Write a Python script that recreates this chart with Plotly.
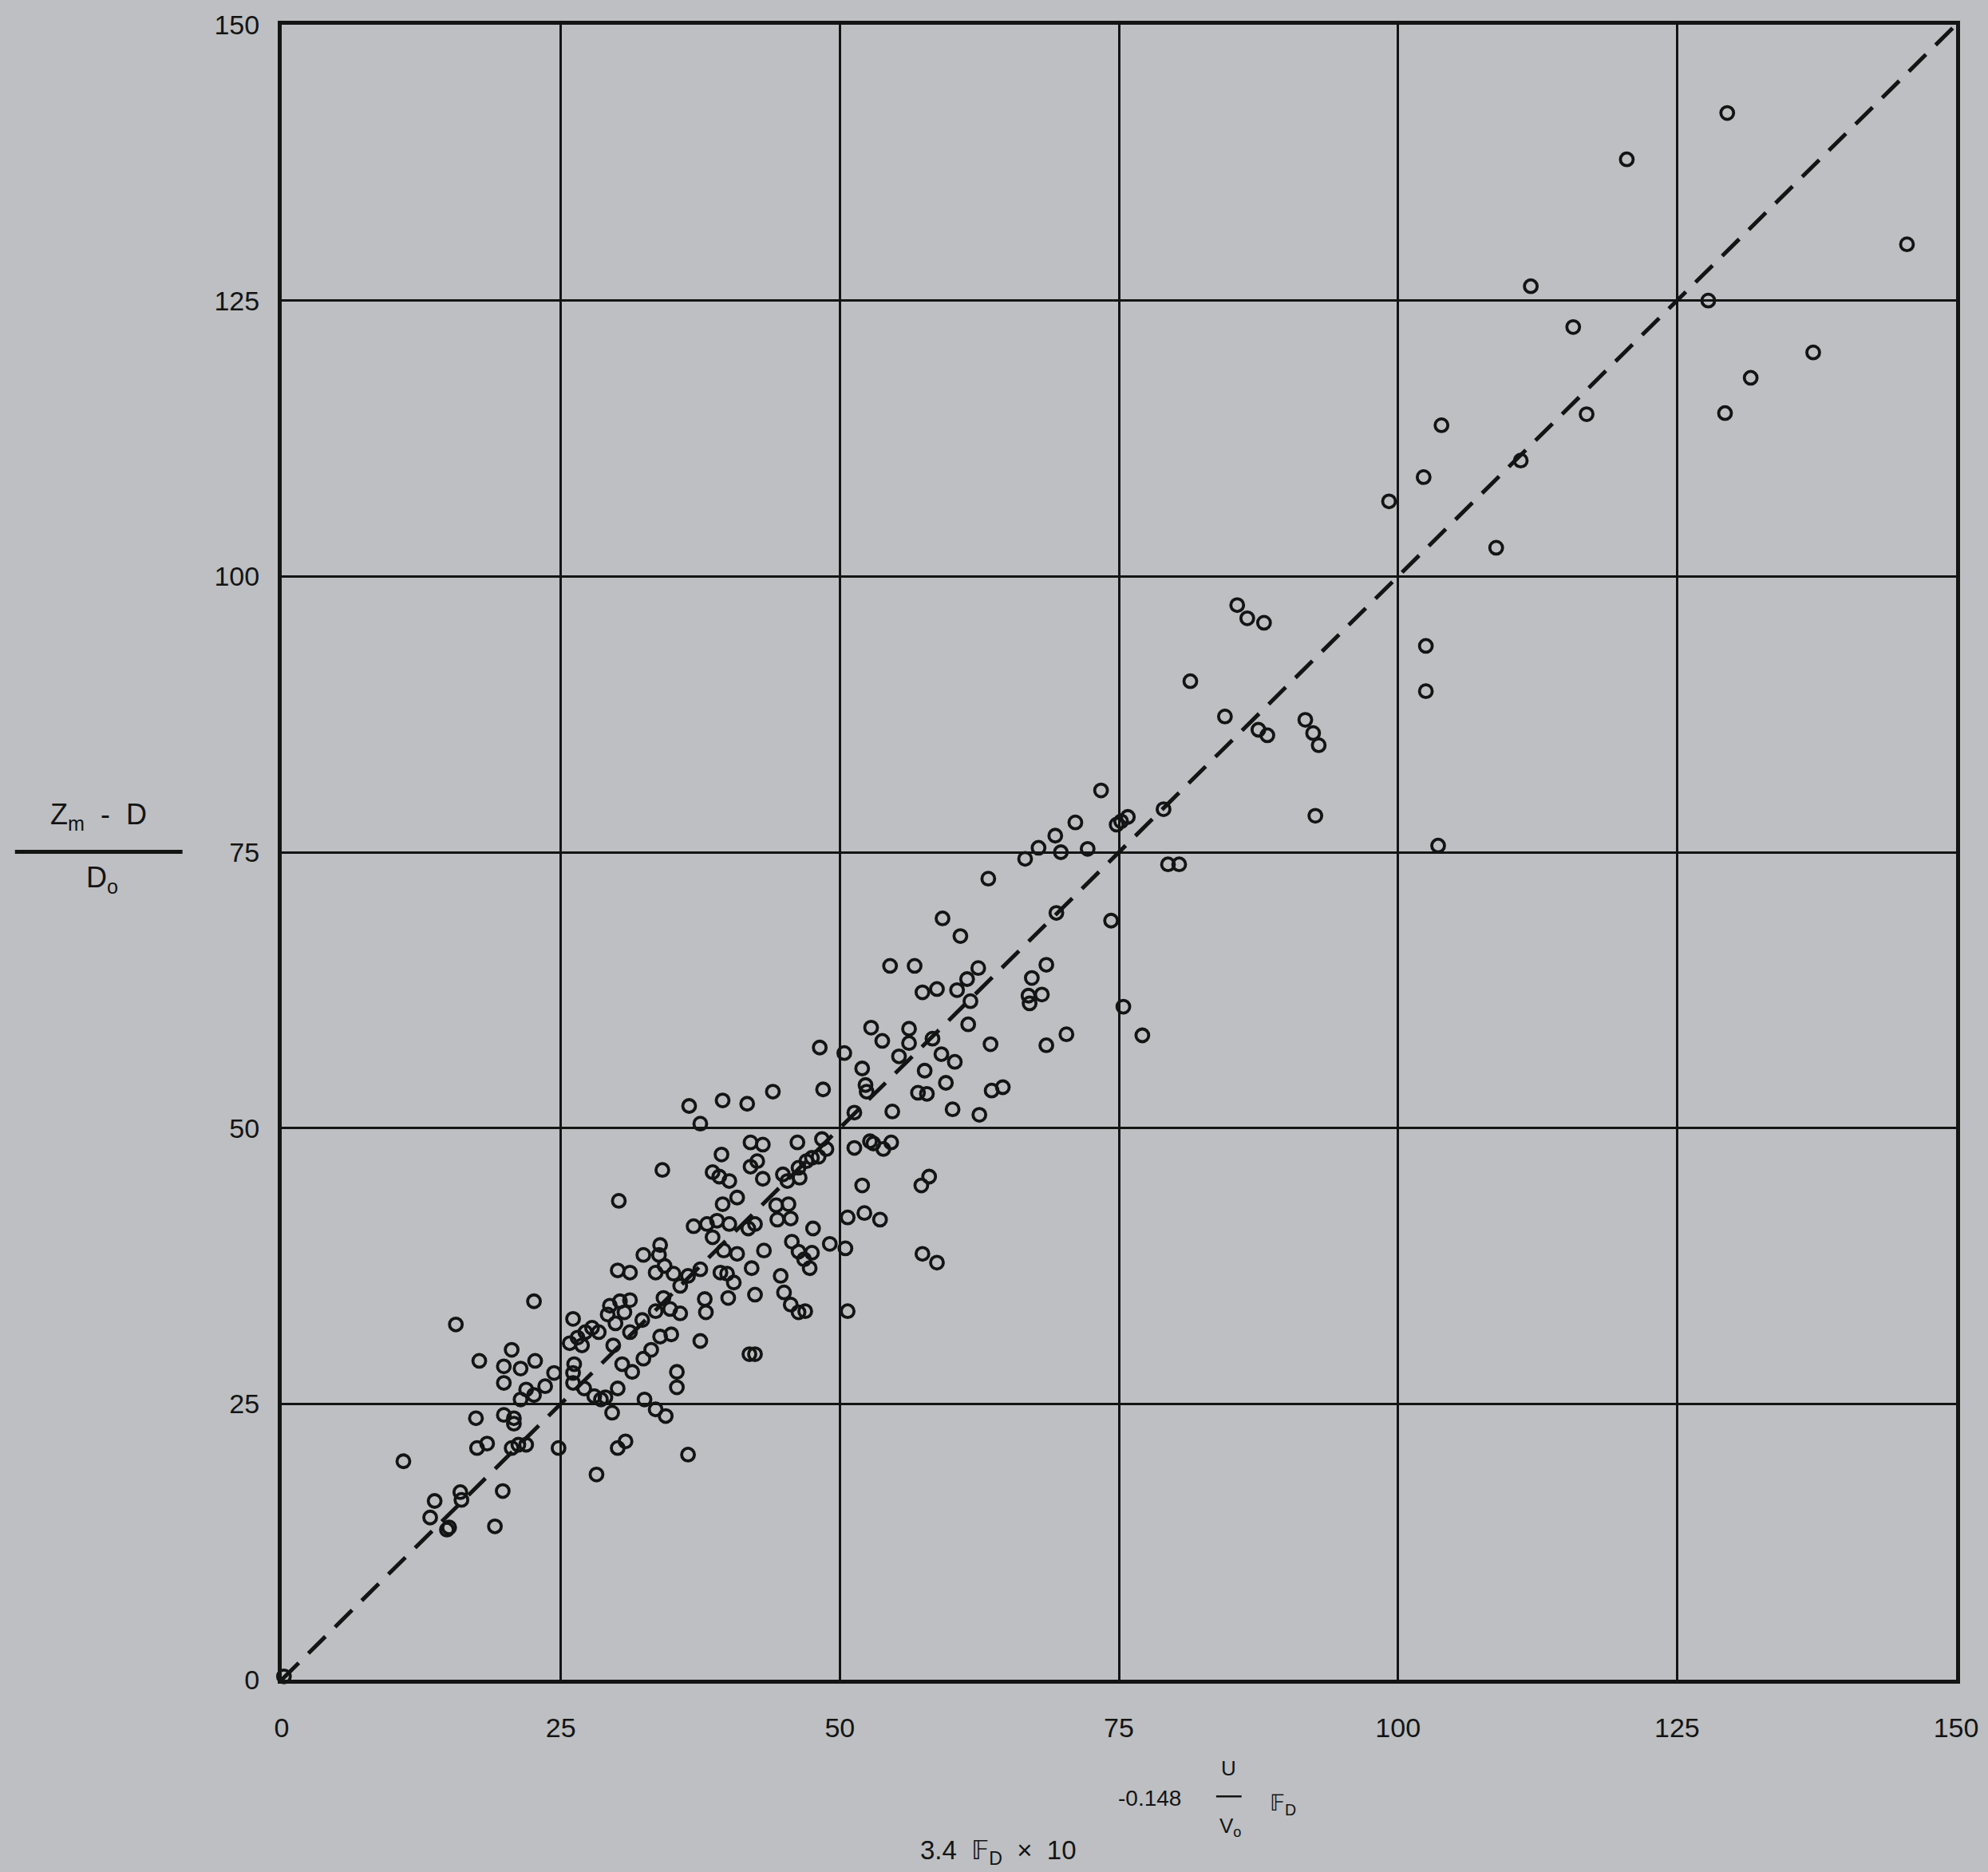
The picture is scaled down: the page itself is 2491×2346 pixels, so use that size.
import plotly.graph_objects as go

# ---- data ----
x_vals = [
    # upper right
    129.5, 120.5, 145.6, 111.9, 127.8, 115.7, 137.2, 131.6, 129.3, 116.9, 103.9, 111.0, 102.3, 99.2, 108.8,
    85.6, 86.5, 88.0, 102.5,
    81.4, 102.5, 84.5, 87.5, 88.3, 91.7, 92.4, 92.9, 79.0, 92.6, 73.4, 74.8, 75.2, 75.8, 79.4, 80.4, 103.6,
    71.1, 69.3, 67.8, 69.8, 72.2, 66.6,
    # middle
    63.3, 59.2, 60.8, 69.4, 74.3, 54.5, 56.7, 68.5, 67.2, 62.4, 61.4, 57.4, 58.7, 60.5, 61.7, 66.9, 67.0, 68.1,
    75.4, 77.1, 61.5, 52.8, 53.8, 56.2, 56.2, 55.3, 58.3, 59.1, 60.3, 63.5, 68.5, 70.3, 57.6, 59.5, 57.0, 57.8,
    63.6, 64.6, 54.7, 60.1, 62.5, 52.7, 53.0, 53.9, 54.6, 57.3, 58.0, 52.0,
    48.2, 50.4,
    # 30-55 band
    36.5, 37.5, 39.5, 41.7, 44.0, 48.5, 52.0, 52.3, 52.4, 51.3,
    34.1, 42.0, 43.1, 46.2,
    48.4, 48.8, 48.1, 47.5, 47.0, 46.3, 46.4, 45.3, 44.9,
    51.3, 39.4, 38.6, 39.2, 40.1, 42.0, 42.6, 43.1, 40.8, 39.5,
    44.3, 45.4, 44.4, 45.6,
    36.9, 38.1, 39.0, 40.1, 38.6, 39.6, 40.8, 41.8, 42.4,
    43.2, 47.6, 45.7, 46.3, 47.5, 47.3, 46.8, 49.1, 50.5, 50.7, 52.2, 53.6, 57.4, 58.7, 50.7,
    42.1, 44.7, 45.0, 45.6, 46.3, 46.9, 42.4, 39.3, 39.9, 40.5, 40.0, 37.9, 38.0, 37.5,
    33.9, 33.8, 32.4, 34.3, 33.5, 35.1, 35.7, 36.4, 34.2, 34.8, 33.5, 35.7, 32.3, 34.9, 33.9, 33.1, 32.4,
    37.5, 35.4, 35.4, 41.9, 42.4, 32.5, 33.5, 34.4,
    30.2,
    # lower left
    22.6, 15.6, 17.7, 20.6, 19.9, 19.9, 21.4, 22.7, 24.4, 23.6, 21.9, 22.6, 21.4, 26.1, 25.8, 26.5, 27.2, 27.8,
    28.4, 26.9, 26.2, 26.1, 26.1, 27.1, 28.0, 28.6, 29.0, 29.6, 30.1, 30.5, 31.4, 30.1, 30.8, 28.2, 24.8, 17.4,
    19.9, 20.8, 20.8, 17.5, 18.4, 20.6, 21.2, 21.9, 10.9, 19.8, 13.7, 13.3, 16.0, 16.1, 14.8, 15.0, 19.1,
    30.1, 31.2, 29.4, 30.3, 31.2, 29.2, 29.9, 30.7, 31.2, 29.7,
    36.4,
    -0.9, 0.2,
]
y_vals = [
    142.0, 137.8, 130.1, 126.3, 125.0, 122.6, 120.3, 118.0, 114.8, 114.7, 113.7, 110.5, 109.0, 106.8, 102.6,
    97.4, 96.2, 95.8, 93.7,
    90.5, 89.6, 87.3, 86.1, 85.6, 87.0, 85.8, 84.7, 78.9, 78.3, 80.6, 77.5, 77.8, 78.2, 73.9, 73.9, 75.6,
    77.7, 76.5, 75.4, 75.0, 75.3, 74.4,
    72.6, 69.0, 67.4, 69.5, 68.8, 64.7, 64.7, 64.8, 63.6, 64.5, 63.5, 62.3, 62.6, 62.5, 61.5, 62.0, 61.3, 62.1,
    61.0, 58.4, 59.4, 59.1, 57.9, 59.0, 57.7, 56.5, 58.1, 56.7, 56.0, 57.6, 57.5, 58.5, 55.2, 54.1, 53.2, 53.1,
    53.4, 53.7, 51.5, 51.7, 51.2, 48.8, 48.6, 48.1, 48.7, 44.8, 45.6, 44.8,
    57.3, 56.8,
    52.0, 50.4, 52.5, 52.2, 53.3, 53.5, 55.4, 53.9, 53.3, 51.4,
    46.2, 48.7, 48.5, 48.7,
    49.0, 48.1, 47.4, 47.3, 47.0, 46.4, 45.5, 45.2, 45.8,
    48.2, 47.6, 46.0, 45.6, 45.2, 46.5, 47.0, 45.4, 43.7, 43.1,
    43.0, 43.1, 41.7, 41.8,
    41.1, 41.3, 41.6, 41.3, 40.1, 38.9, 38.6, 40.9, 41.3,
    38.9, 40.9, 39.7, 38.8, 38.7, 37.3, 38.1, 39.5, 39.1, 41.9, 42.3, 41.7, 38.6, 37.8, 33.4,
    37.3, 36.6, 35.1, 34.0, 33.3, 33.4, 34.9, 36.9, 36.8, 36.0, 34.6, 34.5, 33.3, 37.2,
    39.4, 38.5, 38.5, 37.5, 36.9, 36.8, 35.7, 36.6, 34.6, 33.6, 33.4, 33.2, 32.6, 31.3, 31.1, 29.9, 29.1,
    30.7, 27.9, 26.5, 29.5, 29.5, 25.4, 24.5, 23.9,
    43.4,
    34.3, 32.2, 28.9, 29.9, 28.4, 26.9, 28.2, 28.9, 27.8, 26.6, 26.3, 25.8, 25.4, 32.7, 30.5, 31.0, 31.5, 31.9,
    31.5, 30.3, 28.6, 27.8, 26.9, 26.4, 25.7, 25.4, 25.6, 24.2, 26.4, 28.6, 27.9, 21.0, 21.6, 18.6, 21.0, 23.7,
    24.0, 23.7, 23.2, 21.0, 21.4, 21.0, 21.3, 21.3, 19.8, 17.1, 16.2, 14.7, 17.0, 16.3, 13.6, 13.8, 13.9,
    37.1, 36.9, 33.9, 34.3, 34.4, 33.1, 32.3, 33.3, 31.5, 30.3,
    20.4,
    0.45, 0.3,
]
line_x = [0, 150]
line_y = [0, 150]
tick_vals = [0, 25, 50, 75, 100, 125, 150]
tick_text = ["0", "25", "50", "75", "100", "125", "150"]

# ---- layout geometry (pixels) ----
W, H = 2491, 2346
L, R, T, B = 353, 29, 22, 241
PX0, PX1 = L, W - R
PY0, PY1 = T, H - B


def px(x):
    return (x - PX0) / (PX1 - PX0)


def py(y):
    return (PY1 - y) / (PY1 - PY0)


BG = "#bdbfc2"
INK = "#141414"
FONT = "Liberation Sans, Arial, Helvetica, sans-serif"

fig = go.Figure()
fig.add_trace(go.Scatter(
    x=line_x, y=line_y, mode="lines",
    line=dict(color=INK, width=5, dash="30px,17px"),
    hoverinfo="skip", showlegend=False,
))
fig.add_trace(go.Scatter(
    x=x_vals, y=y_vals, mode="markers",
    marker=dict(symbol="circle-open", size=16, color=INK, line=dict(width=3.8, color=INK)),
    cliponaxis=False, showlegend=False,
))

axis_common = dict(
    range=[0, 150], tickvals=tick_vals, ticktext=tick_text,
    showgrid=True, gridcolor=INK, gridwidth=2.6,
    zeroline=False, showline=True, linecolor=INK, linewidth=5, mirror=True,
    ticks="", tickfont=dict(family=FONT, size=34, color=INK),
)
fig.update_xaxes(**axis_common, ticklabelstandoff=26)
fig.update_yaxes(**axis_common, ticklabelstandoff=16)

ann = []
def add_text(text, x, y, size, xanchor="center"):
    ann.append(dict(text=text, x=px(x), y=py(y), xref="paper", yref="paper",
                    showarrow=False, xanchor=xanchor, yanchor="middle",
                    font=dict(family=FONT, size=size, color=INK)))

# y-axis title as a fraction
add_text("Z<sub>m</sub>  -  D", 122, 1018, 36)
add_text("D<sub>o</sub>", 127, 1098, 36)
# x-axis title pieces
add_text("-0.148", 1446, 2254, 28)
add_text("U", 1546, 2216, 26)
add_text("V<sub>o</sub>", 1548, 2290, 26)
add_text("\U0001D53D<sub>D</sub>", 1614, 2262, 28)
add_text("3.4  \U0001D53D<sub>D</sub>  ×  10", 1256, 2322, 33)

shapes = [
    dict(type="line", xref="paper", yref="paper", x0=px(17), x1=px(228), y0=py(1063), y1=py(1063),
         line=dict(color=INK, width=5)),
    dict(type="line", xref="paper", yref="paper", x0=px(1530), x1=px(1562), y0=py(2252), y1=py(2252),
         line=dict(color=INK, width=2.5)),
]

fig.update_layout(
    width=W, height=H,
    margin=dict(l=L, r=R, t=T, b=B, pad=0),
    paper_bgcolor=BG, plot_bgcolor=BG,
    annotations=ann, shapes=shapes,
    showlegend=False,
)

fig.write_html(
    "out.html",
    config={"displayModeBar": False},
    post_script="document.body.style.margin='0';document.body.style.background='%s';" % BG,
)
